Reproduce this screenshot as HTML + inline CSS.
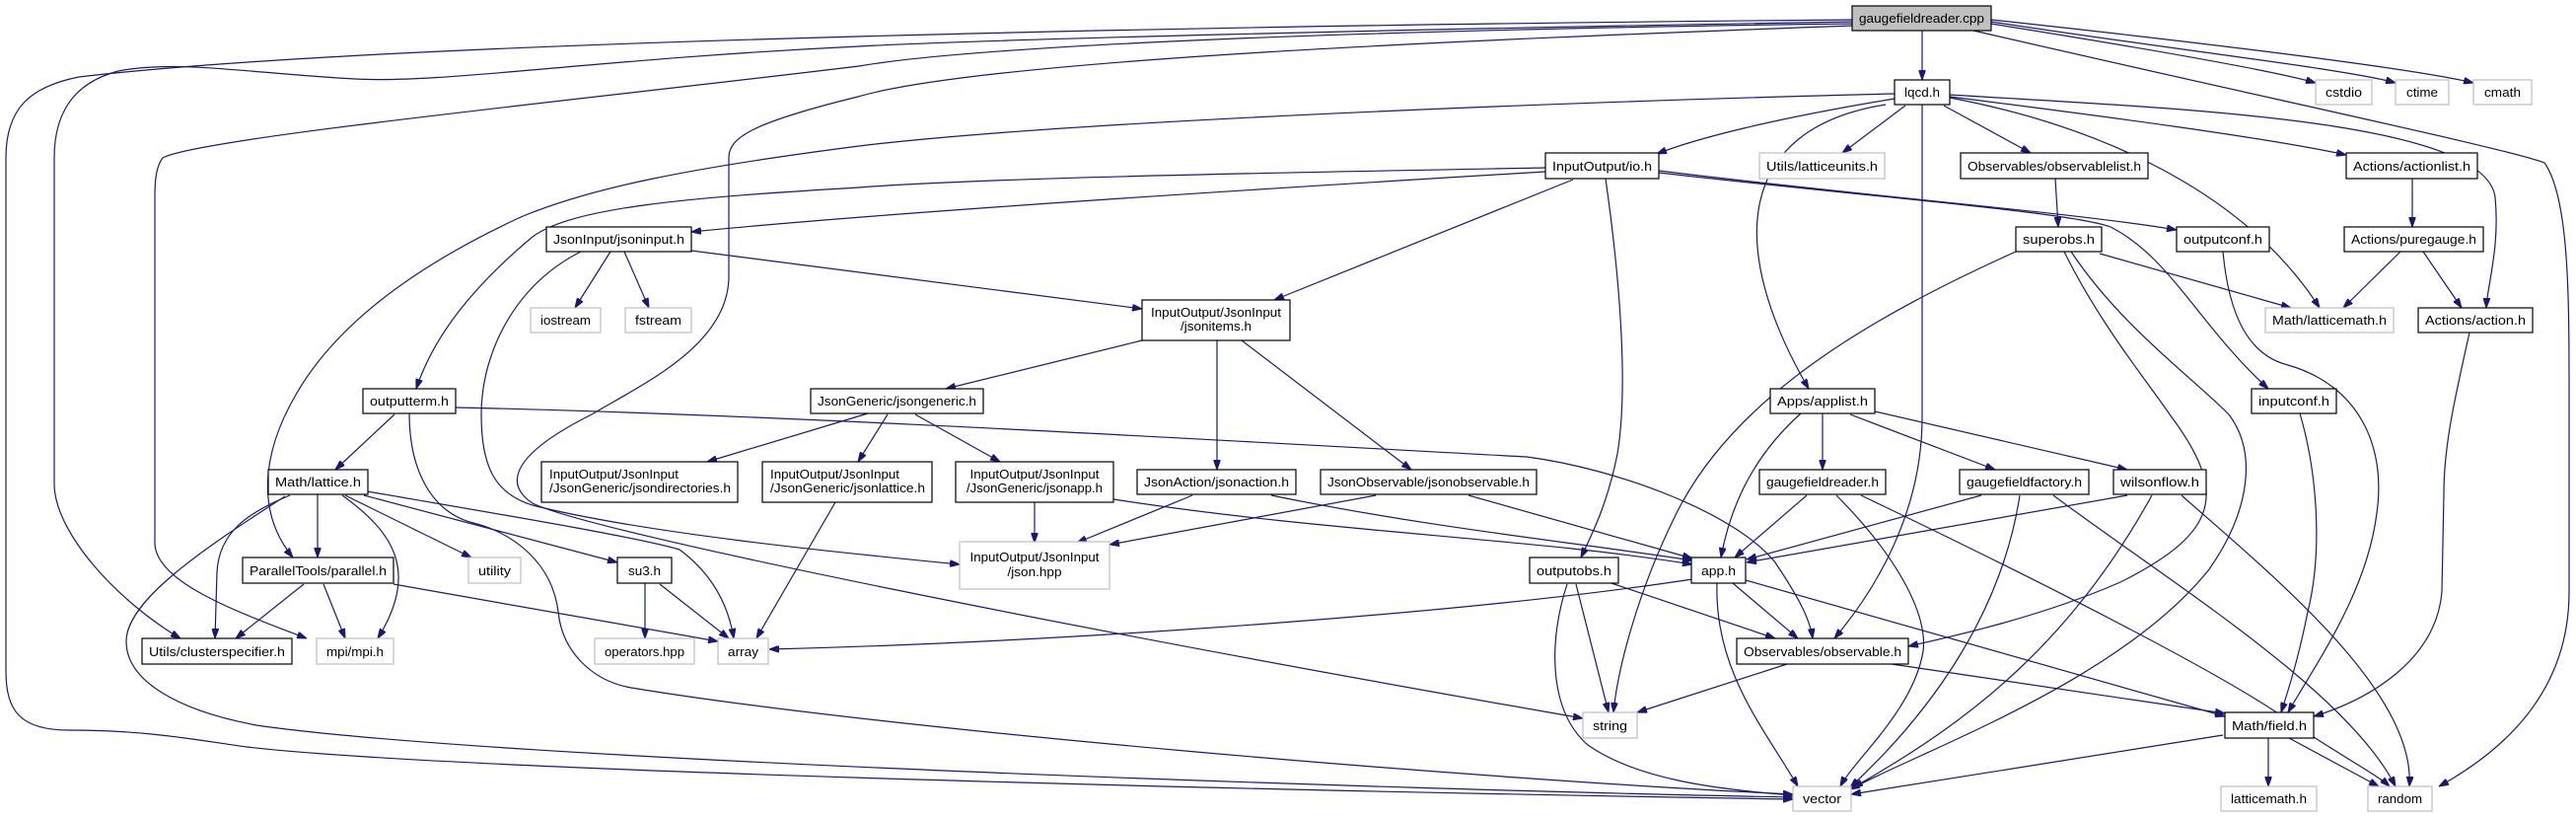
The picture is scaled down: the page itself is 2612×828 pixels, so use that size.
<!DOCTYPE html>
<html><head><meta charset="utf-8"><style>
html,body{margin:0;padding:0;background:#fff;}
svg{display:block;}
text{font-family:"Liberation Sans",sans-serif;font-size:13px;fill:#000;}
.e{fill:none;stroke:#191970;stroke-width:1.2;marker-end:url(#a);}
.n{fill:#fff;stroke:#000;stroke-width:1.2;}
.g{fill:#fff;stroke:#bfbfbf;stroke-width:1.2;}
</style></head><body>
<svg width="2612" height="828" viewBox="0 0 2612 828" xmlns="http://www.w3.org/2000/svg">
<defs><marker id="a" viewBox="0 0 10 7" refX="10" refY="3.5" markerWidth="10" markerHeight="7" markerUnits="userSpaceOnUse" orient="auto"><polygon points="0,0 10,3.5 0,7" fill="#191970" stroke="#191970"/></marker></defs>

<!-- edges -->
<path class="e" d="M1949,31 L1949,81"/>
<path class="e" d="M2019,24 C2150,45 2300,70 2348,84"/>
<path class="e" d="M2019,22 C2200,50 2380,70 2429,84"/>
<path class="e" d="M2019,20 C2250,45 2450,70 2508,84"/>
<path class="e" d="M2001,31 C2300,100 2540,150 2580,165 C2605,200 2605,300 2605,400 L2605,600 C2605,700 2540,760 2473,797"/>
<path class="e" d="M1977,96 C2200,110 2520,120 2530,200 C2535,250 2522,290 2521,312"/>
<path class="e" d="M1878,20 C1300,25 400,40 80,78 C30,88 6,110 6,160 L6,680 C6,720 20,740 70,740 C150,740 200,750 250,757 C450,780 1200,800 1818,810"/>
<path class="e" d="M1878,22 C1400,30 1000,40 871,47 C600,60 450,85 360,80 C260,75 180,60 120,72 C70,85 55,120 55,160 L55,490 C55,540 120,610 183,647"/>
<path class="e" d="M1878,24 C1400,30 1000,45 871,67 C600,100 200,140 165,160 C157,170 157,190 157,200 L157,550 C157,590 240,620 311,647"/>
<path class="e" d="M1878,26 C1500,40 1000,60 870,98 C760,125 739,140 739,160 L739,280 C739,350 650,390 600,420 C520,460 510,490 540,510 C600,540 1100,640 1605,728"/>
<path class="e" d="M1921,95 C1700,100 1100,120 871,148 C700,170 600,190 528,220 C420,270 340,330 300,400 C265,460 260,520 297,565"/>
<path class="e" d="M1921,100 C1800,120 1720,140 1680,156"/>
<path class="e" d="M1932,107 L1868,155"/>
<path class="e" d="M1971,107 L2059,155"/>
<path class="e" d="M1977,98 C2150,120 2300,140 2379,157"/>
<path class="e" d="M1977,99 C2140,130 2280,200 2352,312"/>
<path class="e" d="M1912,106 C1760,130 1750,250 1834,394"/>
<path class="e" d="M1949,106 L1949,420 C1950,520 1900,600 1860,647"/>
<path class="e" d="M1567,170 C1300,175 1000,180 871,190 C700,200 580,210 540,240 C480,290 440,340 422,394"/>
<path class="e" d="M1567,174 C1300,190 900,215 701,235"/>
<path class="e" d="M1595,182 L1292,304"/>
<path class="e" d="M1628,181 C1645,300 1650,400 1640,460 C1630,510 1615,540 1603,565"/>
<path class="e" d="M1682,173 C1900,200 2100,215 2207,233"/>
<path class="e" d="M1682,175 C1900,200 2100,215 2140,230 C2200,260 2230,330 2300,394"/>
<path class="e" d="M619,255 L583,312"/>
<path class="e" d="M633,255 L658,312"/>
<path class="e" d="M701,254 L1158,313"/>
<path class="e" d="M589,255 C520,290 488,360 488,420 C488,470 500,500 540,512 C650,540 850,560 973,572"/>
<path class="e" d="M1158,345 L959,394"/>
<path class="e" d="M1234,345 L1234,476"/>
<path class="e" d="M1259,345 L1431,476"/>
<path class="e" d="M880,419 L717,468"/>
<path class="e" d="M900,420 L870,468"/>
<path class="e" d="M928,420 L1014,468"/>
<path class="e" d="M847,509 L767,647"/>
<path class="e" d="M1049,508 L1049,550"/>
<path class="e" d="M1129,506 C1350,540 1550,545 1716,572"/>
<path class="e" d="M1209,502 L1092,550"/>
<path class="e" d="M1289,502 C1450,535 1600,550 1716,568"/>
<path class="e" d="M1395,502 L1125,552"/>
<path class="e" d="M1489,502 L1716,566"/>
<path class="e" d="M400,420 L340,476"/>
<path class="e" d="M415,419 C415,480 440,520 480,530 C520,540 560,570 566,620 C570,660 600,690 640,697 C900,740 1500,790 1818,805"/>
<path class="e" d="M462,413 C800,420 1300,450 1548,463 C1640,475 1760,520 1800,570 C1820,600 1835,625 1838,647"/>
<path class="e" d="M294,502 C250,520 222,540 220,580 L218,647"/>
<path class="e" d="M322,501 L322,565"/>
<path class="e" d="M347,502 C400,540 425,580 383,647"/>
<path class="e" d="M350,502 L478,565"/>
<path class="e" d="M369,502 L626,570"/>
<path class="e" d="M372,498 C500,520 650,545 689,557 C720,580 738,610 744,647"/>
<path class="e" d="M289,503 C200,560 128,610 128,650 C128,690 180,720 260,735 C500,770 1400,800 1818,808"/>
<path class="e" d="M308,592 L239,647"/>
<path class="e" d="M328,592 L350,647"/>
<path class="e" d="M399,592 L728,650"/>
<path class="e" d="M654,591 L654,647"/>
<path class="e" d="M669,592 L739,647"/>
<path class="e" d="M1716,587 C1500,620 1100,650 780,658"/>
<path class="e" d="M1757,591 L1823,647"/>
<path class="e" d="M1770,588 L2256,726"/>
<path class="e" d="M1741,591 C1738,680 1790,740 1823,797"/>
<path class="e" d="M1826,419 C1780,460 1755,510 1745,565"/>
<path class="e" d="M1598,592 L1631,722"/>
<path class="e" d="M1589,592 C1570,650 1570,720 1610,755 C1660,790 1740,800 1818,806"/>
<path class="e" d="M1631,590 L1800,647"/>
<path class="e" d="M2044,255 C1900,320 1760,400 1700,520 C1660,600 1640,680 1636,722"/>
<path class="e" d="M2129,257 L2323,312"/>
<path class="e" d="M2100,255 C2150,330 2220,380 2260,420 C2290,460 2280,520 2240,577 C2150,690 1950,760 1876,800"/>
<path class="e" d="M2093,255 C2130,330 2180,390 2200,420 C2260,500 2250,540 2150,590 C2070,625 1980,645 1935,655"/>
<path class="e" d="M2254,255 C2260,320 2280,360 2320,370 C2390,390 2420,450 2410,520 C2400,600 2350,670 2320,722"/>
<path class="e" d="M2332,419 C2350,480 2355,560 2340,620 C2330,670 2320,700 2313,722"/>
<path class="e" d="M2504,337 C2490,400 2478,450 2478,500 L2476,600 C2470,670 2400,710 2346,726"/>
<path class="e" d="M2446,181 L2446,230"/>
<path class="e" d="M2434,255 L2376,312"/>
<path class="e" d="M2457,255 L2496,312"/>
<path class="e" d="M2084,181 L2087,230"/>
<path class="e" d="M1848,419 L1848,476"/>
<path class="e" d="M1876,420 L2023,476"/>
<path class="e" d="M1901,417 L2157,476"/>
<path class="e" d="M1832,502 L1759,565"/>
<path class="e" d="M1862,502 C1920,560 1955,620 1950,660 C1940,720 1880,770 1866,797"/>
<path class="e" d="M1887,502 C2050,580 2250,680 2320,730 C2380,770 2410,785 2423,797"/>
<path class="e" d="M2009,502 L1771,567"/>
<path class="e" d="M2048,502 C2030,620 1960,720 1876,798"/>
<path class="e" d="M2082,502 C2200,590 2380,700 2429,797"/>
<path class="e" d="M2157,502 L1771,570"/>
<path class="e" d="M2182,502 C2100,650 2000,730 1879,798"/>
<path class="e" d="M2212,502 C2300,580 2450,700 2443,797"/>
<path class="e" d="M1812,673 L1660,722"/>
<path class="e" d="M1918,673 L2256,723"/>
<path class="e" d="M2254,745 L1877,805"/>
<path class="e" d="M2300,748 L2300,797"/>
<path class="e" d="M2321,748 L2412,797"/>

<!-- nodes -->
<rect x="1878" y="6" width="141" height="25" fill="#bfbfbf" stroke="#000" stroke-width="1.2"/><text x="1948.5" y="23" text-anchor="middle" textLength="127" lengthAdjust="spacingAndGlyphs">gaugefieldreader.cpp</text>
<rect class="n" x="1921" y="81" width="56" height="25"/><text x="1949" y="98" text-anchor="middle" textLength="36" lengthAdjust="spacingAndGlyphs">lqcd.h</text>
<rect class="g" x="2348" y="81" width="57" height="25"/><text x="2376.5" y="98" text-anchor="middle" textLength="37" lengthAdjust="spacingAndGlyphs">cstdio</text>
<rect class="g" x="2429" y="81" width="54" height="25"/><text x="2456" y="98" text-anchor="middle" textLength="32" lengthAdjust="spacingAndGlyphs">ctime</text>
<rect class="g" x="2508" y="81" width="59" height="25"/><text x="2537.5" y="98" text-anchor="middle" textLength="37" lengthAdjust="spacingAndGlyphs">cmath</text>
<rect class="g" x="1784" y="155" width="127" height="26"/><text x="1847.5" y="173" text-anchor="middle" textLength="113" lengthAdjust="spacingAndGlyphs">Utils/latticeunits.h</text>
<rect class="n" x="1988" y="155" width="190" height="26"/><text x="2083" y="173" text-anchor="middle" textLength="176" lengthAdjust="spacingAndGlyphs">Observables/observablelist.h</text>
<rect class="n" x="2379" y="155" width="133" height="26"/><text x="2445.5" y="173" text-anchor="middle" textLength="119" lengthAdjust="spacingAndGlyphs">Actions/actionlist.h</text>
<rect class="n" x="1567" y="155" width="115" height="26"/><text x="1624.5" y="173" text-anchor="middle" textLength="101" lengthAdjust="spacingAndGlyphs">InputOutput/io.h</text>
<rect class="n" x="2044" y="230" width="87" height="25"/><text x="2087.5" y="247" text-anchor="middle" textLength="73" lengthAdjust="spacingAndGlyphs">superobs.h</text>
<rect class="n" x="2207" y="230" width="94" height="25"/><text x="2254" y="247" text-anchor="middle" textLength="80" lengthAdjust="spacingAndGlyphs">outputconf.h</text>
<rect class="n" x="2377" y="230" width="141" height="25"/><text x="2447.5" y="247" text-anchor="middle" textLength="127" lengthAdjust="spacingAndGlyphs">Actions/puregauge.h</text>
<rect class="n" x="554" y="230" width="147" height="25"/><text x="627.5" y="247" text-anchor="middle" textLength="133" lengthAdjust="spacingAndGlyphs">JsonInput/jsoninput.h</text>
<rect class="g" x="538" y="312" width="71" height="25"/><text x="573.5" y="329" text-anchor="middle" textLength="51" lengthAdjust="spacingAndGlyphs">iostream</text>
<rect class="g" x="634" y="312" width="67" height="25"/><text x="667.5" y="329" text-anchor="middle" textLength="47" lengthAdjust="spacingAndGlyphs">fstream</text>
<rect class="g" x="2297" y="312" width="130" height="25"/><text x="2362" y="329" text-anchor="middle" textLength="116" lengthAdjust="spacingAndGlyphs">Math/latticemath.h</text>
<rect class="n" x="2452" y="312" width="116" height="25"/><text x="2510" y="329" text-anchor="middle" textLength="102" lengthAdjust="spacingAndGlyphs">Actions/action.h</text>
<rect class="n" x="1158" y="304" width="150" height="41"/><text x="1233" y="321" text-anchor="middle" textLength="132" lengthAdjust="spacingAndGlyphs">InputOutput/JsonInput</text><text x="1233" y="335" text-anchor="middle" textLength="72" lengthAdjust="spacingAndGlyphs">/jsonitems.h</text>
<rect class="n" x="368" y="394" width="94" height="25"/><text x="415" y="411" text-anchor="middle" textLength="80" lengthAdjust="spacingAndGlyphs">outputterm.h</text>
<rect class="n" x="822" y="394" width="175" height="25"/><text x="909.5" y="411" text-anchor="middle" textLength="161" lengthAdjust="spacingAndGlyphs">JsonGeneric/jsongeneric.h</text>
<rect class="n" x="1795" y="394" width="106" height="25"/><text x="1848" y="411" text-anchor="middle" textLength="92" lengthAdjust="spacingAndGlyphs">Apps/applist.h</text>
<rect class="n" x="2283" y="394" width="86" height="25"/><text x="2326" y="411" text-anchor="middle" textLength="72" lengthAdjust="spacingAndGlyphs">inputconf.h</text>
<rect class="n" x="549" y="468" width="199" height="41"/><text x="557" y="485" textLength="131" lengthAdjust="spacingAndGlyphs">InputOutput/JsonInput</text><text x="557" y="499" textLength="184" lengthAdjust="spacingAndGlyphs">/JsonGeneric/jsondirectories.h</text>
<rect class="n" x="773" y="468" width="172" height="41"/><text x="781" y="485" textLength="131" lengthAdjust="spacingAndGlyphs">InputOutput/JsonInput</text><text x="781" y="499" textLength="157" lengthAdjust="spacingAndGlyphs">/JsonGeneric/jsonlattice.h</text>
<rect class="n" x="969" y="468" width="160" height="41"/><text x="1049" y="485" text-anchor="middle" textLength="131" lengthAdjust="spacingAndGlyphs">InputOutput/JsonInput</text><text x="1049" y="499" text-anchor="middle" textLength="138" lengthAdjust="spacingAndGlyphs">/JsonGeneric/jsonapp.h</text>
<rect class="n" x="272" y="476" width="101" height="25"/><text x="322.5" y="493" text-anchor="middle" textLength="87" lengthAdjust="spacingAndGlyphs">Math/lattice.h</text>
<rect class="n" x="1153" y="476" width="161" height="25"/><text x="1233.5" y="493" text-anchor="middle" textLength="147" lengthAdjust="spacingAndGlyphs">JsonAction/jsonaction.h</text>
<rect class="n" x="1339" y="476" width="219" height="25"/><text x="1448.5" y="493" text-anchor="middle" textLength="205" lengthAdjust="spacingAndGlyphs">JsonObservable/jsonobservable.h</text>
<rect class="n" x="1784" y="476" width="128" height="25"/><text x="1848" y="493" text-anchor="middle" textLength="114" lengthAdjust="spacingAndGlyphs">gaugefieldreader.h</text>
<rect class="n" x="1987" y="476" width="131" height="25"/><text x="2052.5" y="493" text-anchor="middle" textLength="117" lengthAdjust="spacingAndGlyphs">gaugefieldfactory.h</text>
<rect class="n" x="2143" y="476" width="94" height="25"/><text x="2190" y="493" text-anchor="middle" textLength="80" lengthAdjust="spacingAndGlyphs">wilsonflow.h</text>
<rect class="g" x="973" y="549" width="152" height="48"/><text x="1049" y="569" text-anchor="middle" textLength="131" lengthAdjust="spacingAndGlyphs">InputOutput/JsonInput</text><text x="1049" y="584" text-anchor="middle" textLength="55" lengthAdjust="spacingAndGlyphs">/json.hpp</text>
<rect class="n" x="246" y="565" width="153" height="26"/><text x="322.5" y="583" text-anchor="middle" textLength="139" lengthAdjust="spacingAndGlyphs">ParallelTools/parallel.h</text>
<rect class="g" x="475" y="565" width="53" height="26"/><text x="501.5" y="583" text-anchor="middle" textLength="33" lengthAdjust="spacingAndGlyphs">utility</text>
<rect class="n" x="626" y="565" width="55" height="26"/><text x="653.5" y="583" text-anchor="middle" textLength="33" lengthAdjust="spacingAndGlyphs">su3.h</text>
<rect class="n" x="1551" y="565" width="90" height="26"/><text x="1596" y="583" text-anchor="middle" textLength="76" lengthAdjust="spacingAndGlyphs">outputobs.h</text>
<rect class="n" x="1715" y="565" width="55" height="26"/><text x="1742.5" y="583" text-anchor="middle" textLength="35" lengthAdjust="spacingAndGlyphs">app.h</text>
<rect class="n" x="144" y="647" width="152" height="26"/><text x="220" y="665" text-anchor="middle" textLength="138" lengthAdjust="spacingAndGlyphs">Utils/clusterspecifier.h</text>
<rect class="g" x="321" y="647" width="78" height="26"/><text x="360" y="665" text-anchor="middle" textLength="58" lengthAdjust="spacingAndGlyphs">mpi/mpi.h</text>
<rect class="g" x="603" y="647" width="101" height="26"/><text x="653.5" y="665" text-anchor="middle" textLength="81" lengthAdjust="spacingAndGlyphs">operators.hpp</text>
<rect class="g" x="728" y="647" width="51" height="26"/><text x="753.5" y="665" text-anchor="middle" textLength="31" lengthAdjust="spacingAndGlyphs">array</text>
<rect class="n" x="1761" y="647" width="174" height="26"/><text x="1848" y="665" text-anchor="middle" textLength="160" lengthAdjust="spacingAndGlyphs">Observables/observable.h</text>
<rect class="g" x="1605" y="722" width="55" height="26"/><text x="1632.5" y="740" text-anchor="middle" textLength="35" lengthAdjust="spacingAndGlyphs">string</text>
<rect class="n" x="2256" y="722" width="90" height="26"/><text x="2301" y="740" text-anchor="middle" textLength="76" lengthAdjust="spacingAndGlyphs">Math/field.h</text>
<rect class="g" x="1818" y="797" width="59" height="25"/><text x="1847.5" y="814" text-anchor="middle" textLength="39" lengthAdjust="spacingAndGlyphs">vector</text>
<rect class="g" x="2252" y="797" width="97" height="25"/><text x="2300.5" y="814" text-anchor="middle" textLength="77" lengthAdjust="spacingAndGlyphs">latticemath.h</text>
<rect class="g" x="2401" y="797" width="65" height="25"/><text x="2433.5" y="814" text-anchor="middle" textLength="45" lengthAdjust="spacingAndGlyphs">random</text>
</svg>
</body></html>
